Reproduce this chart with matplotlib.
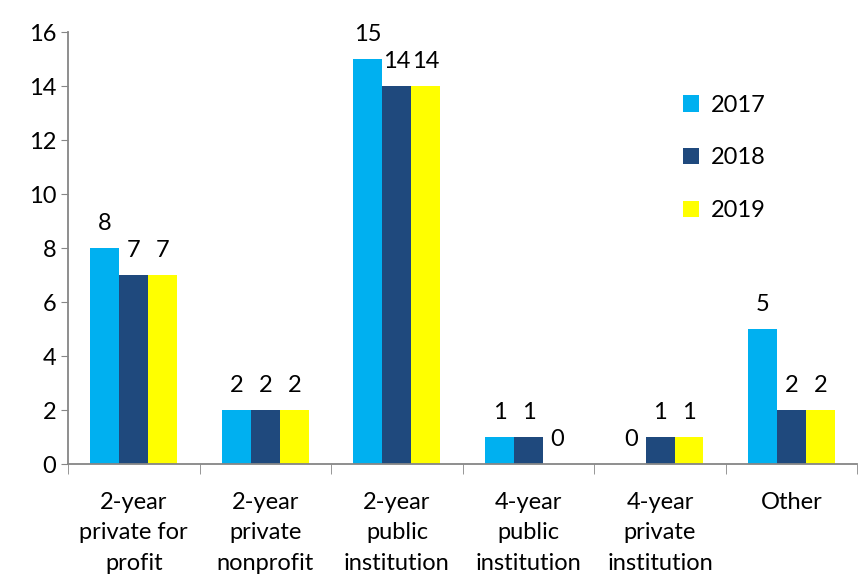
import matplotlib.pyplot as plt
import numpy as np

plt.rcParams['font.family'] = ['Lato', 'DejaVu Sans']

categories = ["2-year\nprivate for\nprofit", "2-year\nprivate\nnonprofit", "2-year\npublic\ninstitution",
              "4-year\npublic\ninstitution", "4-year\nprivate\ninstitution", "Other"]
years = ["2017", "2018", "2019"]
v2017 = [8, 2, 15, 1, 0, 5]
v2018 = [7, 2, 14, 1, 1, 2]
v2019 = [7, 2, 14, 0, 1, 2]
colors = ["#00B0F0", "#1F497D", "#FFFF00"]

fig = plt.figure(figsize=(8.6, 5.76), dpi=100)
ax = fig.add_axes([0.079, 0.194, 0.918, 0.75])

x = np.arange(len(categories))
w = 0.22
for i, (vals, c, lab) in enumerate(zip([v2017, v2018, v2019], colors, years)):
    bars = ax.bar(x + (i - 1) * w, vals, w, color=c, label=lab)
    ax.bar_label(bars, padding=10, fontsize=17)

ax.set_xlim(-0.5, len(categories) - 0.5)
ax.set_ylim(0, 16)
ax.set_yticks(range(0, 17, 2))
ax.set_xticks(x)
ax.set_xticklabels(categories, fontsize=17, linespacing=1.55)
ax.set_xticks(np.arange(-0.5, len(categories), 1), minor=True)
ax.tick_params(axis='x', which='major', length=0, pad=20)
ax.tick_params(axis='x', which='minor', length=7, color='#868686', direction='out')
ax.tick_params(axis='y', labelsize=17, length=5, color='#868686')

for s in ['top', 'right']:
    ax.spines[s].set_visible(False)
for s in ['left', 'bottom']:
    ax.spines[s].set_color('#868686')
    ax.spines[s].set_linewidth(1.3)

ax.legend(frameon=False, fontsize=17, loc='upper left', bbox_to_anchor=(0.752, 0.905),
          handlelength=0.7, handleheight=0.7, handletextpad=0.5, labelspacing=1.35)

plt.savefig("out.png")
